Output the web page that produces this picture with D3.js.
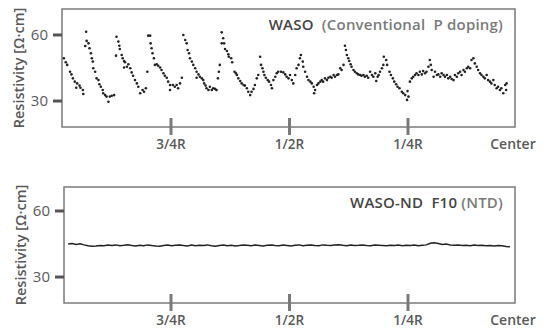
<!DOCTYPE html>
<html>
<head>
<meta charset="utf-8">
<script src="https://cdn.jsdelivr.net/npm/d3@7"></script>
<style>
  body { margin: 0; background: #fff; }
  svg text { font-family: 'Open Sans', 'DejaVu Sans', sans-serif; }
</style>
</head>
<body>
<div id="chart"></div>
<script>
// radial position: 0 = wafer edge (R), 100 = center
const tickPositions = [25, 50, 75];
const tickLabels = ['3/4R', '1/2R', '1/4R'];
const endLabel = 'Center';
const yTicks = [30, 60];

// conventional P doping: [position, resistivity]
const conventional = [
  [2.4, 49.4], [2.8, 47.6], [3.1, 46.4], [3.7, 43.3], [4.0, 42.1], [4.3, 40.3], [4.7, 38.8],
  [5.0, 36.0], [5.2, 38.0], [5.7, 37.0], [5.9, 36.0], [6.4, 35.0], [6.5, 33.2],
  [6.9, 55.0], [7.1, 61.5], [7.2, 57.3], [7.6, 56.2], [7.8, 54.0], [8.1, 51.7], [8.3, 49.4],
  [8.5, 47.9], [8.6, 44.9], [9.0, 43.3], [9.3, 40.3], [9.7, 39.5], [9.9, 37.6], [10.2, 36.5],
  [10.6, 35.0], [10.7, 33.5], [11.1, 32.7], [11.4, 32.0], [11.8, 29.7], [12.1, 32.0],
  [12.5, 32.4], [13.0, 32.7],
  [13.4, 50.6], [13.5, 59.2], [13.9, 57.0], [14.1, 55.1], [14.2, 53.6], [14.6, 50.9],
  [14.8, 49.4], [15.1, 48.2], [15.1, 45.2], [15.3, 47.6], [15.7, 45.6], [16.0, 46.7],
  [16.4, 44.9], [16.7, 43.0], [17.0, 41.5], [17.4, 39.5], [17.8, 38.0], [18.1, 36.5],
  [18.5, 33.5], [19.0, 35.0], [19.3, 34.2], [19.7, 35.8],
  [20.0, 43.3], [20.2, 59.7], [20.6, 59.7], [20.7, 56.2], [20.9, 54.0], [21.1, 51.7],
  [21.4, 49.4], [21.6, 46.4], [22.0, 46.7], [22.3, 46.0], [22.7, 45.2], [23.0, 44.1],
  [23.4, 42.6], [23.7, 41.5], [24.1, 40.6], [24.4, 38.8], [24.8, 37.3], [24.8, 35.0],
  [25.4, 37.3], [25.8, 36.5], [26.2, 37.3], [26.5, 35.8], [26.9, 38.0], [27.3, 40.6],
  [27.6, 60.0], [28.0, 57.7], [28.3, 56.2], [28.5, 53.2], [28.8, 51.7], [29.0, 49.4],
  [29.4, 47.9], [29.7, 46.4], [30.1, 44.9], [30.4, 43.3], [30.4, 40.6], [30.8, 42.1],
  [31.1, 41.0], [31.5, 40.3], [31.8, 39.5], [32.0, 38.0], [32.3, 37.0], [32.5, 35.8],
  [32.9, 35.0], [33.2, 36.5], [33.6, 35.0], [33.9, 35.8], [34.3, 35.5], [34.6, 35.0],
  [34.9, 40.3], [35.1, 43.3], [35.3, 46.4],
  [35.7, 61.2], [35.7, 56.2], [36.0, 58.5], [36.2, 56.2], [36.4, 53.6], [36.8, 52.7],
  [37.1, 51.2], [37.2, 50.1], [37.7, 49.4], [37.9, 47.6], [38.4, 43.3], [38.7, 42.6],
  [38.9, 41.8], [39.2, 40.3], [39.6, 39.1], [39.9, 38.0], [40.3, 37.3], [40.6, 37.0],
  [41.0, 35.8], [41.3, 34.2], [41.7, 32.7], [42.0, 34.2], [42.4, 35.5], [42.7, 37.3],
  [43.1, 40.3], [43.4, 41.8],
  [43.8, 50.1], [44.0, 46.4], [44.3, 44.9], [44.5, 43.3], [44.7, 41.8], [45.0, 40.6],
  [45.4, 39.5], [45.7, 38.8], [46.1, 37.3], [46.3, 35.8], [46.6, 39.5], [47.0, 41.0],
  [47.3, 42.6], [47.6, 43.3], [48.2, 43.3], [48.7, 43.0], [49.1, 42.1], [49.4, 41.0],
  [49.8, 40.3], [50.1, 41.8], [50.5, 39.5], [50.8, 38.0], [51.2, 41.8], [51.5, 44.9],
  [51.9, 46.4], [52.2, 49.4],
  [52.4, 50.9], [52.8, 47.9], [52.9, 45.6], [53.3, 43.3], [53.7, 41.0], [54.0, 39.5],
  [54.4, 38.8], [54.7, 38.0], [55.1, 36.5], [55.2, 33.5], [55.4, 35.0], [55.8, 37.3],
  [56.1, 38.0], [56.5, 38.8], [56.8, 39.5], [57.1, 38.8], [57.5, 40.3], [57.9, 39.5],
  [58.2, 40.6], [58.6, 41.0], [58.9, 40.6], [59.3, 41.8], [59.6, 41.0], [60.0, 41.8],
  [60.3, 42.1], [60.7, 44.9], [61.0, 44.1], [61.4, 46.4],
  [61.7, 55.1], [61.9, 53.2], [62.1, 50.9], [62.4, 49.4], [62.6, 48.2], [62.9, 46.7],
  [63.1, 45.6], [63.5, 44.1], [63.8, 43.3], [64.2, 42.6], [64.5, 42.1], [64.9, 41.8],
  [65.2, 41.5], [65.6, 41.8], [65.9, 41.0], [66.3, 41.5], [66.6, 40.6], [67.0, 43.3],
  [67.4, 41.8], [67.7, 41.0], [68.1, 42.6], [68.3, 39.1], [68.6, 41.0], [68.8, 41.8],
  [69.1, 43.3], [69.5, 44.9], [69.8, 46.4],
  [69.9, 50.1], [70.4, 48.6], [70.6, 46.4], [71.1, 43.3], [71.4, 41.8], [71.8, 40.3],
  [72.1, 38.8], [72.5, 37.6], [72.8, 36.5], [73.2, 35.8], [73.7, 34.2], [74.0, 33.5],
  [74.4, 32.7], [74.8, 30.5], [74.9, 34.5], [75.1, 32.0],
  [75.4, 38.8], [75.8, 40.3], [76.1, 41.0], [76.5, 41.8], [76.8, 42.6], [77.2, 41.8],
  [77.5, 43.3], [77.9, 42.1], [78.2, 43.6], [78.6, 42.6], [78.9, 43.3], [79.3, 45.6],
  [79.6, 48.6], [79.8, 46.4], [80.0, 44.1], [80.4, 41.0], [80.7, 43.3], [81.1, 41.8],
  [81.4, 42.1], [81.8, 41.0], [82.1, 42.6], [82.5, 41.8], [82.8, 41.0], [83.2, 41.8],
  [83.5, 40.3], [83.9, 41.0], [84.2, 40.0], [84.6, 39.5], [84.9, 41.8], [85.3, 41.0],
  [85.6, 42.6], [86.0, 43.3], [86.3, 41.8], [86.7, 44.1], [87.0, 43.3], [87.4, 44.9],
  [87.7, 45.6], [88.1, 44.9], [88.4, 48.6], [88.8, 49.4], [89.1, 47.1], [89.5, 45.6],
  [89.8, 44.1], [90.2, 42.6], [90.5, 41.8], [90.9, 41.0], [91.2, 40.3], [91.6, 41.8],
  [91.9, 39.5], [92.3, 38.8], [92.6, 38.0], [93.0, 39.5], [93.3, 37.3], [93.7, 35.8],
  [94.0, 36.5], [94.4, 35.0], [94.7, 35.8], [95.1, 33.5], [95.5, 37.3], [95.7, 35.0],
  [95.8, 38.0]
];

// NTD wafer: evenly spaced scan from position 3.3 to 96.5
const ntdStart = 3.3;
const ntdEnd = 96.5;
const ntdValues = [
  45.0, 45.2, 44.8, 45.1, 44.6, 44.2, 44.0, 44.1, 44.3, 44.2, 44.5, 44.3, 44.6, 44.2,
  44.4, 44.7, 44.3, 44.1, 44.4, 44.2, 44.6, 44.3, 44.1, 44.0, 44.3, 44.5, 44.2, 44.4,
  44.6, 44.3, 44.1, 44.5, 44.2, 44.4, 44.3, 44.6, 44.2, 44.0, 44.3, 44.5, 44.2, 44.4,
  44.1, 44.3, 44.6, 44.4, 44.2, 44.5, 44.3, 44.1, 44.4, 44.6, 44.3, 44.2, 44.5, 44.3,
  44.1, 44.4, 44.6, 44.2, 44.4, 44.5, 44.3, 44.2, 44.6, 44.4, 44.3, 44.5, 44.7, 44.4,
  44.2, 44.5, 44.3, 44.4, 44.6, 44.3, 44.2, 44.5, 44.4, 44.3, 44.2, 44.4, 44.3, 44.5,
  44.2, 44.4, 44.3, 44.5, 44.2, 44.4, 44.6, 45.3, 45.6, 45.2, 44.8, 45.0, 44.6, 44.4,
  44.5, 44.3, 44.4, 44.2, 44.5, 44.3, 44.4, 44.2, 44.3, 44.1, 44.3, 44.2, 43.9, 43.8
];

const width = 545;
const height = 328;
const boxColor = '#7a7a7a';
const textColor = '#595959';

const svg = d3.select('#chart')
  .append('svg')
  .attr('width', width)
  .attr('height', height);

const x = d3.scaleLinear().domain([0, 100]).range([52.5, 526.5]);

function drawPanel(g, { box, yDomain, titleMain, titleSub }) {
  const y = d3.scaleLinear().domain(yDomain).range([box.bottom, box.top]);

  g.append('rect')
    .attr('x', box.left)
    .attr('y', box.top)
    .attr('width', box.right - box.left)
    .attr('height', box.bottom - box.top)
    .attr('fill', 'none')
    .attr('stroke', boxColor)
    .attr('stroke-width', 1.5);

  // y ticks: thick marks outside the box
  g.selectAll('.ytick')
    .data(yTicks)
    .enter()
    .append('line')
    .attr('x1', box.left - 9)
    .attr('x2', box.left)
    .attr('y1', (d) => y(d))
    .attr('y2', (d) => y(d))
    .attr('stroke', '#555')
    .attr('stroke-width', 3);

  g.selectAll('.ylab')
    .data(yTicks)
    .enter()
    .append('text')
    .attr('x', box.left - 14)
    .attr('y', (d) => y(d))
    .attr('dy', '0.35em')
    .attr('text-anchor', 'end')
    .attr('fill', textColor)
    .style('font-size', '15px')
    .text((d) => d);

  // x ticks crossing the bottom edge
  g.selectAll('.xtick')
    .data(tickPositions)
    .enter()
    .append('line')
    .attr('x1', (d) => x(d))
    .attr('x2', (d) => x(d))
    .attr('y1', box.bottom - 9)
    .attr('y2', box.bottom + 8)
    .attr('stroke', boxColor)
    .attr('stroke-width', 3);

  g.selectAll('.xlab')
    .data(tickPositions)
    .enter()
    .append('text')
    .attr('x', (d) => x(d))
    .attr('y', box.bottom + 22)
    .attr('text-anchor', 'middle')
    .attr('fill', textColor)
    .style('font-size', '13.5px')
    .style('font-weight', 600)
    .text((d, i) => tickLabels[i]);

  g.append('text')
    .attr('x', box.right - 2)
    .attr('y', box.bottom + 22)
    .attr('text-anchor', 'middle')
    .attr('fill', textColor)
    .style('font-size', '14px')
    .style('font-weight', 600)
    .text(endLabel);

  g.append('text')
    .attr('transform', `translate(${box.left - 38},${(box.top + box.bottom) / 2}) rotate(-90)`)
    .attr('text-anchor', 'middle')
    .attr('fill', textColor)
    .style('font-size', '14.5px')
    .style('font-weight', 600)
    .text('Resistivity [Ω·cm]');

  const title = g.append('text')
    .attr('x', box.right - 12)
    .attr('y', box.top + 21)
    .attr('text-anchor', 'end')
    .style('font-size', '15px')
    .style('font-weight', 600)
    .style('letter-spacing', '0.2px');
  title.append('tspan').attr('fill', '#454545').text(titleMain);
  title.append('tspan').attr('fill', '#7a7a7a').text(titleSub);

  return y;
}

// top panel: conventional P doping
const topPanel = svg.append('g');
const yTop = drawPanel(topPanel, {
  box: { left: 62, right: 515, top: 9, bottom: 127 },
  yDomain: [18.2, 71.8],
  titleMain: 'WASO',
  titleSub: '\u00a0 (Conventional\u00a0 P doping)'
});

topPanel.selectAll('circle')
  .data(conventional)
  .enter()
  .append('circle')
  .attr('cx', (d) => x(d[0]))
  .attr('cy', (d) => yTop(d[1]))
  .attr('r', 1.3)
  .attr('fill', '#222');

// bottom panel: NTD
const bottomPanel = svg.append('g');
const yBottom = drawPanel(bottomPanel, {
  box: { left: 64, right: 515, top: 187, bottom: 303 },
  yDomain: [18.2, 70.9],
  titleMain: 'WASO-ND\u00a0 F10',
  titleSub: ' (NTD)'
});

const ntdStep = (ntdEnd - ntdStart) / (ntdValues.length - 1);
const line = d3.line()
  .x((d, i) => x(ntdStart + i * ntdStep))
  .y((d) => yBottom(d))
  .curve(d3.curveLinear);

bottomPanel.append('path')
  .datum(ntdValues)
  .attr('d', line)
  .attr('fill', 'none')
  .attr('stroke', '#222')
  .attr('stroke-width', 1.5);
</script>
</body>
</html>
